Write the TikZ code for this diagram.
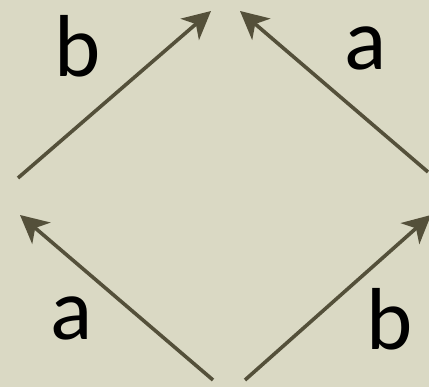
\documentclass[tikz,border=0pt]{standalone}
\usepackage{fontspec}
\setmainfont{Carlito}
\usepackage{tikz}
\usetikzlibrary{arrows.meta}
\definecolor{paper}{RGB}{218,217,196}
\definecolor{ink}{RGB}{84,80,58}

\begin{document}
\begin{tikzpicture}[x=1pt,y=1pt,>={Stealth[length=28pt,width=28pt,inset=8pt]}]
  \fill[paper] (0,0) rectangle (429,387);
  \useasboundingbox (0,0) rectangle (429,387);
  \clip (0,0) rectangle (429,387);
  \tikzset{edge/.style={->,line width=3.6pt,ink},
           lbl/.style={anchor=base,font=\fontsize{88}{88}\selectfont}}
  % ends of the four arrows
  \coordinate (A1) at (213,7);
  \coordinate (A2) at (20,172);
  \coordinate (B1) at (18,209);
  \coordinate (B2) at (211,376);
  \coordinate (C1) at (428,215);
  \coordinate (C2) at (240,376);
  \coordinate (D1) at (245,7);
  \coordinate (D2) at (431,172);
  \draw[edge] (A1) -- (A2);
  \draw[edge] (B1) -- (B2);
  \draw[edge] (C1) -- (C2);
  \draw[edge] (D1) -- (D2);
  \node[lbl] (la) at (72,47) {a};
  \node[lbl] (lb) at (78,310) {b};
  \node[lbl] (ra) at (366,317) {a};
  \node[lbl] (rb) at (390,37) {b};
\end{tikzpicture}
\end{document}
